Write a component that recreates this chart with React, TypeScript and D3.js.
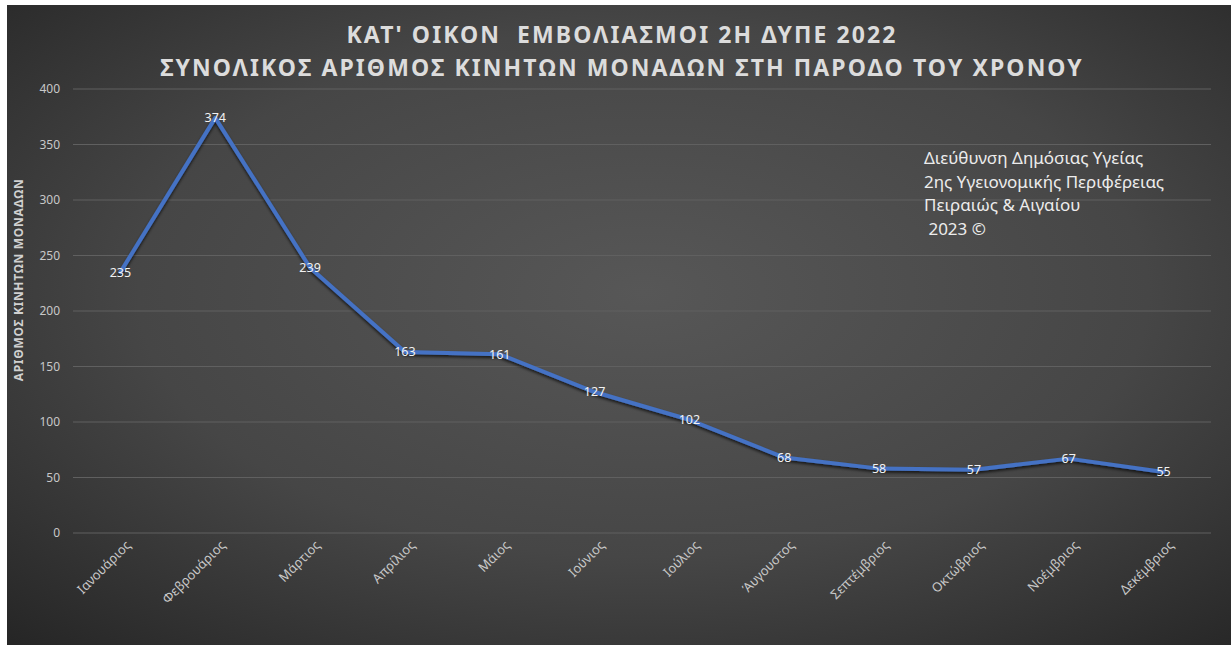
import { useEffect, useRef } from 'react'
import * as d3 from 'd3'

const months = [
  'Ιανουάριος',
  'Φεβρουάριος',
  'Μάρτιος',
  'Απρίλιος',
  'Μάιος',
  'Ιούνιος',
  'Ιούλιος',
  'Άυγουστος',
  'Σεπτέμβριος',
  'Οκτώβριος',
  'Νοέμβριος',
  'Δεκέμβριος',
]
const units = [235, 374, 239, 163, 161, 127, 102, 68, 58, 57, 67, 55]
const yTicks = [0, 50, 100, 150, 200, 250, 300, 350, 400]
const titleLines = [
  "ΚΑΤ' ΟΙΚΟΝ  ΕΜΒΟΛΙΑΣΜΟΙ 2Η ΔΥΠΕ 2022",
  'ΣΥΝΟΛΙΚΟΣ ΑΡΙΘΜΟΣ ΚΙΝΗΤΩΝ ΜΟΝΑΔΩΝ ΣΤΗ ΠΑΡΟΔΟ ΤΟΥ ΧΡΟΝΟΥ',
]
const yTitle = 'ΑΡΙΘΜΟΣ ΚΙΝΗΤΩΝ ΜΟΝΑΔΩΝ'
const note = [
  'Διεύθυνση Δημόσιας Υγείας',
  '2ης Υγειονομικής Περιφέρειας',
  'Πειραιώς & Αιγαίου',
  ' 2023 ©',
]

const W = 1231
const H = 645
const FONT = "'Noto Sans', 'Open Sans', sans-serif"

export default function App() {
  const ref = useRef<SVGSVGElement>(null)

  useEffect(() => {
    if (!ref.current) return
    const svg = d3.select(ref.current)
    svg.selectAll('*').remove()
    svg.attr('width', W).attr('height', H).style('font-family', FONT)

    // background: white strip + dark radial gradient panel
    const defs = svg.append('defs')
    const grad = defs
      .append('radialGradient')
      .attr('id', 'bg')
      .attr('cx', '52%')
      .attr('cy', '45%')
      .attr('r', '75%')
    grad.append('stop').attr('offset', '0%').attr('stop-color', '#575757')
    grad.append('stop').attr('offset', '55%').attr('stop-color', '#464646')
    grad.append('stop').attr('offset', '100%').attr('stop-color', '#262626')

    const shadow = defs.append('filter').attr('id', 'shadow').attr('x', '-5%').attr('y', '-5%').attr('width', '110%').attr('height', '120%')
    shadow
      .append('feDropShadow')
      .attr('dx', 0)
      .attr('dy', 2)
      .attr('stdDeviation', 1.5)
      .attr('flood-color', '#000')
      .attr('flood-opacity', 0.7)

    svg.append('rect').attr('width', W).attr('height', H).attr('fill', '#ffffff')
    svg.append('rect').attr('x', 7).attr('y', 5).attr('width', W - 7).attr('height', H - 5).attr('fill', 'url(#bg)')

    const plot = { left: 73, right: 1211, top: 89, bottom: 533 }

    const x = d3.scalePoint<string>().domain(months).range([plot.left, plot.right]).padding(0.5)
    const y = d3.scaleLinear().domain([0, 400]).range([plot.bottom, plot.top])

    // gridlines
    svg
      .append('g')
      .selectAll('line')
      .data(yTicks)
      .join('line')
      .attr('x1', plot.left)
      .attr('x2', plot.right)
      .attr('y1', (d) => y(d))
      .attr('y2', (d) => y(d))
      .attr('stroke', '#606060')
      .attr('stroke-width', 1)

    // y tick labels
    svg
      .append('g')
      .selectAll('text')
      .data(yTicks)
      .join('text')
      .attr('x', 60)
      .attr('y', (d) => y(d))
      .attr('dy', '0.35em')
      .attr('text-anchor', 'end')
      .attr('font-size', 12)
      .attr('fill', '#c8c8c8')
      .text((d) => d)

    // y axis title
    svg
      .append('text')
      .attr('transform', `translate(23,280) rotate(-90)`)
      .attr('text-anchor', 'middle')
      .attr('font-size', 12)
      .attr('font-weight', 'bold')
      .attr('letter-spacing', 0.7)
      .attr('fill', '#d0d0d0')
      .text(yTitle)

    // x tick labels
    svg
      .append('g')
      .selectAll('text')
      .data(months)
      .join('text')
      .attr('transform', (d) => `translate(${x(d)! + 11},${plot.bottom + 13}) rotate(-45)`)
      .attr('text-anchor', 'end')
      .attr('font-size', 13)
      .attr('fill', '#c8c8c8')
      .text((d) => d)

    // title
    svg
      .append('g')
      .selectAll('text')
      .data(titleLines)
      .join('text')
      .attr('x', 622)
      .attr('y', (_, i) => 43 + i * 33)
      .attr('text-anchor', 'middle')
      .attr('font-size', 23)
      .attr('font-weight', 'bold')
      .attr('letter-spacing', 2.1)
      .attr('fill', '#dcdcdc')
      .style('white-space', 'pre')
      .text((d) => d)

    // line
    const line = d3
      .line<number>()
      .x((_, i) => x(months[i])!)
      .y((d) => y(d))

    svg
      .append('path')
      .datum(units)
      .attr('d', line)
      .attr('fill', 'none')
      .attr('stroke', '#4472c4')
      .attr('stroke-width', 4)
      .attr('stroke-linejoin', 'round')
      .attr('stroke-linecap', 'round')
      .attr('filter', 'url(#shadow)')

    // data labels
    svg
      .append('g')
      .selectAll('text')
      .data(units)
      .join('text')
      .attr('x', (_, i) => x(months[i])!)
      .attr('y', (d) => y(d))
      .attr('dy', '0.35em')
      .attr('text-anchor', 'middle')
      .attr('font-size', 12.5)
      .attr('fill', '#f2f2f2')
      .text((d) => d)

    // annotation
    svg
      .append('g')
      .selectAll('text')
      .data(note)
      .join('text')
      .attr('x', 924)
      .attr('y', (_, i) => 164 + i * 23.5)
      .attr('font-size', 17)
      .attr('fill', '#ececec')
      .style('white-space', 'pre')
      .text((d) => d)
  }, [])

  return (
    <svg
      ref={ref}
      style={{ position: 'fixed', left: 0, top: 0, display: 'block' }}
    />
  )
}
